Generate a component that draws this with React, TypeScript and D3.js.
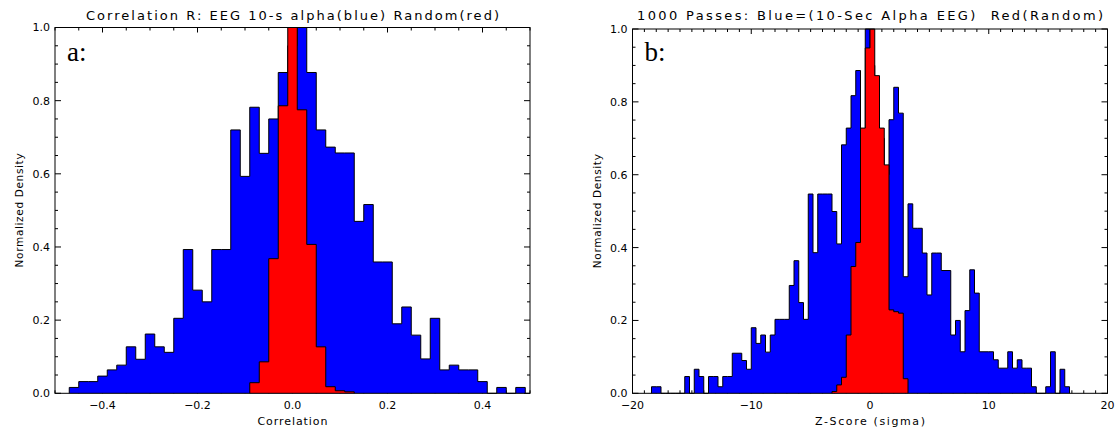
import * as d3 from "d3";

// panel a: correlation histogram, bins of 0.02 centred on multiples of 0.02
const corrBinWidth = 0.02;
const corrBlueStart = -0.47;
const corrBlue = [
  0.016, 0.032, 0.032, 0.047, 0.064, 0.077, 0.127, 0.093, 0.162, 0.127,
  0.112, 0.205, 0.393, 0.282, 0.25, 0.393, 0.393, 0.72, 0.593, 0.782,
  0.656, 0.75, 0.877, 0.95, 1.0, 0.877, 0.72, 0.673, 0.657, 0.657,
  0.47, 0.516, 0.359, 0.359, 0.19, 0.236, 0.159, 0.094, 0.205, 0.064,
  0.077, 0.064, 0.064, 0.032, 0, 0.016, 0, 0.016,
];
const corrRedStart = -0.09;
const corrRed = [0.029, 0.086, 0.368, 0.786, 1.0, 0.775, 0.407, 0.127, 0.018, 0.007, 0.004];
const corrTicks = [-0.4, -0.2, 0, 0.2, 0.4];
const corrTickLabels = ["\u22120.4", "\u22120.2", "0.0", "0.2", "0.4"];

// panel b: z-score histogram, bins of 0.4
const zBinWidth = 0.4;
const zBlueStart = -18.4;
const zBlue = [
  0.018, 0.018, 0, 0, 0, 0, 0, 0.046, 0, 0.066,
  0.046, 0, 0.046, 0.046, 0.018, 0.046, 0.046, 0.11, 0.11, 0.09,
  0.066, 0.18, 0.137, 0.16, 0.113, 0.16, 0.203, 0.203, 0.203, 0.296,
  0.364, 0.249, 0.203, 0.547, 0.386, 0.547, 0.547, 0.547, 0.499, 0.41,
  0.682, 0.728, 0.817, 0.886, 0.72, 1.0, 0.9, 0.8, 0.7, 0.6,
  0.751, 0.84, 0.769, 0.32, 0.52, 0.453, 0.453, 0.385, 0.27, 0.385,
  0.385, 0.337, 0.337, 0.16, 0.2, 0.114, 0.227, 0.339, 0.275, 0.114,
  0.114, 0.114, 0.092, 0.069, 0.069, 0.114, 0.069, 0.092, 0.069, 0.069,
  0.018, 0, 0, 0.018, 0.114, 0, 0.066, 0.018,
];
const zRedStart = -3.2;
const zRed = [0.005, 0.023, 0.044, 0.16, 0.348, 0.414, 0.728, 0.948, 1.0, 0.872, 0.728, 0.627, 0.229, 0.224, 0.22, 0.04];
const zTicks = [-20, -10, 0, 10, 20];
const zTickLabels = ["\u221220", "\u221210", "0", "10", "20"];

const densityTicks = [0, 0.2, 0.4, 0.6, 0.8, 1.0];
const densityTickLabels = ["0.0", "0.2", "0.4", "0.6", "0.8", "1.0"];

const font = "DejaVu Sans, sans-serif";

function stepPath(values, start, width, x, y) {
  const pts = [[start, 0]];
  values.forEach((v, i) => {
    pts.push([start + i * width, v]);
    pts.push([start + (i + 1) * width, v]);
  });
  pts.push([start + values.length * width, 0]);
  return d3
    .line()
    .x((d) => x(d[0]))
    .y((d) => y(d[1]))(pts);
}

function Panel({ cfg }) {
  const x = d3.scaleLinear().domain(cfg.domain).range([cfg.left, cfg.right]);
  const y = d3.scaleLinear().domain([0, 1]).range([cfg.bottom, cfg.top]);
  const xMinor = d3.range(cfg.domain[0], cfg.domain[1] + cfg.minorStep / 2, cfg.minorStep);
  const yMinor = d3.range(0, 1.0001, 0.05);
  const isMajorX = (v) => cfg.ticks.some((t) => Math.abs(t - v) < cfg.minorStep / 4);
  const isMajorY = (v) => densityTicks.some((t) => Math.abs(t - v) < 0.01);
  const cx = (cfg.left + cfg.right) / 2;
  const cy = (cfg.top + cfg.bottom) / 2;
  return (
    <g>
      {/* ticks on all four sides */}
      {xMinor.map((v, i) => {
        const len = isMajorX(v) ? 5 : 3;
        return (
          <g key={"xt" + i} stroke="#000" strokeWidth={1}>
            <line x1={x(v)} x2={x(v)} y1={cfg.top} y2={cfg.top + len} />
            <line x1={x(v)} x2={x(v)} y1={cfg.bottom} y2={cfg.bottom - len} />
          </g>
        );
      })}
      {yMinor.map((v, i) => {
        const len = isMajorY(v) ? 6 : 3;
        return (
          <g key={"yt" + i} stroke="#000" strokeWidth={1}>
            <line x1={cfg.left} x2={cfg.left + len} y1={y(v)} y2={y(v)} />
            <line x1={cfg.right} x2={cfg.right - len} y1={y(v)} y2={y(v)} />
          </g>
        );
      })}
      <path
        d={stepPath(cfg.blue, cfg.blueStart, cfg.binWidth, x, y)}
        fill="#0000ff"
        stroke="#000"
        strokeWidth={1}
      />
      <path
        d={stepPath(cfg.red, cfg.redStart, cfg.binWidth, x, y)}
        fill="#ff0000"
        stroke="#000"
        strokeWidth={1}
      />
      <rect
        x={cfg.left}
        y={cfg.top}
        width={cfg.right - cfg.left}
        height={cfg.bottom - cfg.top}
        fill="none"
        stroke="#000"
        strokeWidth={1}
      />
      {cfg.ticks.map((t, i) => (
        <text
          key={"xl" + i}
          x={x(t)}
          y={cfg.bottom + 16}
          textAnchor="middle"
          fontFamily={font}
          fontSize={11}
          fill="#000"
        >
          {cfg.tickLabels[i]}
        </text>
      ))}
      {densityTicks.map((t, i) => (
        <text
          key={"yl" + i}
          x={cfg.left - 5}
          y={y(t)}
          dy="0.36em"
          textAnchor="end"
          fontFamily={font}
          fontSize={11}
          fill="#000"
        >
          {densityTickLabels[i]}
        </text>
      ))}
      <text
        x={cx}
        y={cfg.bottom + 32}
        textAnchor="middle"
        fontFamily={font}
        fontSize={11}
        textLength={cfg.xTitleWidth}
        lengthAdjust="spacing"
        fill="#000"
      >
        {cfg.xTitle}
      </text>
      <text
        transform={`translate(${cfg.left - 32},${cy}) rotate(-90)`}
        textAnchor="middle"
        fontFamily={font}
        fontSize={10.5}
        textLength={114}
        lengthAdjust="spacing"
        fill="#000"
      >
        Normalized Density
      </text>
      <text
        x={cx}
        y={20}
        textAnchor="middle"
        fontFamily={font}
        fontSize={13}
        textLength={cfg.titleWidth}
        lengthAdjust="spacing"
        style={{ whiteSpace: "pre" }}
        fill="#000"
      >
        {cfg.title}
      </text>
      <text
        x={cfg.left + 12}
        y={61}
        fontFamily="Liberation Serif, serif"
        fontSize={27}
        fill="#000"
      >
        {cfg.tag}
      </text>
    </g>
  );
}

export default function App() {
  const panels = [
    {
      left: 55,
      right: 530,
      top: 27.5,
      bottom: 393.3,
      domain: [-0.5, 0.5],
      minorStep: 0.05,
      ticks: corrTicks,
      tickLabels: corrTickLabels,
      binWidth: corrBinWidth,
      blue: corrBlue,
      blueStart: corrBlueStart,
      red: corrRed,
      redStart: corrRedStart,
      xTitle: "Correlation",
      xTitleWidth: 70,
      title: "Correlation R: EEG 10-s alpha(blue) Random(red)",
      titleWidth: 413,
      tag: "a:",
    },
    {
      left: 632.5,
      right: 1107.5,
      top: 29,
      bottom: 393.3,
      domain: [-20, 20],
      minorStep: 1,
      ticks: zTicks,
      tickLabels: zTickLabels,
      binWidth: zBinWidth,
      blue: zBlue,
      blueStart: zBlueStart,
      red: zRed,
      redStart: zRedStart,
      xTitle: "Z-Score (sigma)",
      xTitleWidth: 110,
      title: "1000 Passes: Blue=(10-Sec Alpha EEG)  Red(Random)",
      titleWidth: 466,
      tag: "b:",
    },
  ];
  return (
    <svg
      width={1118}
      height={430}
      style={{ position: "absolute", left: 0, top: 0, background: "#fff" }}
    >
      {panels.map((p, i) => (
        <Panel key={i} cfg={p} />
      ))}
    </svg>
  );
}
